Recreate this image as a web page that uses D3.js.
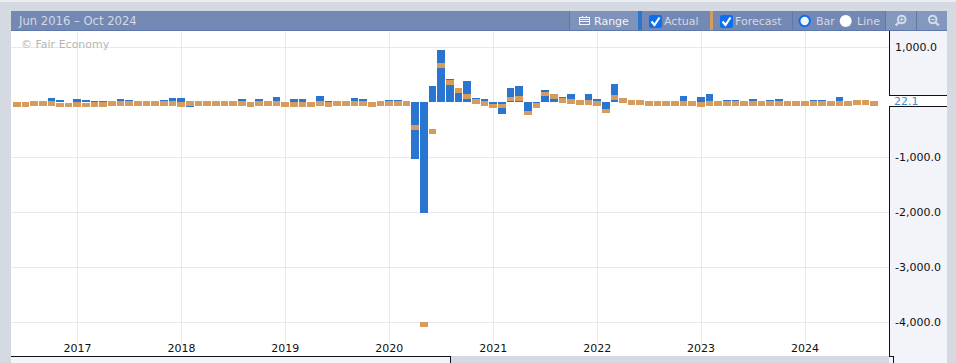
<!DOCTYPE html>
<html>
<head>
<meta charset="utf-8">
<style>
  html, body { margin: 0; padding: 0; background: #d5d9e2; overflow: hidden; }
  svg { display: block; font-family: "DejaVu Sans", sans-serif; }
</style>
<script src="https://cdn.jsdelivr.net/npm/d3@7"></script>
</head>
<body>
<svg id="chart" width="956" height="363"></svg>
<script>
const startMonth = '2016-06'
const actual = [
  13.8, -0.7, -31.2, 26.2, 75.0, 43.9, 10.7, 53.7, 48.3, 15.3,
  19.4, 3.2, 54.5, 45.3, 10.9, 22.2, 10.0, 35.3, 79.5, 78.6,
  -88.0, 15.4, 32.3, -1.1, -7.5, 31.8, 54.1, -51.6, 63.3, 11.2,
  94.1, 9.3, 66.8, 55.9, -7.2, 106.5, 27.7, -2.2, -24.2, 81.1,
  53.7, 1.8, -71.2, 35.2, 34.5, 30.3, -1030.0, -2015.0, 289.6, 952.9,
  418.5, 245.8, 378.2, 83.6, 62.1, -62.6, -212.8, 259.2, 303.1, -207.1,
  -68.0, 230.7, 94.0, 90.2, 157.1, 31.2, 153.7, 54.7, -200.1, 336.6,
  72.5, 15.3, 39.8, -43.2, -30.6, -39.7, 21.1, 108.3, 10.1, 104.0,
  150.0, 21.8, 34.7, 41.4, -17.3, 59.9, -6.4, 39.9, 63.8, 17.5,
  24.9, 0.1, 37.3, 40.7, -2.2, 90.4, 26.7, -1.4, -2.8, 22.1
]
const forecast = [
  5, 5, 20, 20, 20, -10, -10, 5, -10, 5,
  5, 20, 20, 20, 20, 20, 20, 20, 20, 5,
  20, 20, 20, 20, 20, 20, 20, 5, 20, 20,
  20, 5, 5, 5, 5, 20, 5, 20, 20, 20,
  20, 5, 20, 20, 20, 20, -415, -4000, -490, 715,
  400, 260, 150, 60, 20, -27, -27, 100, 115, -150,
  -15, 190, 150, 78, 60, 42, 38, 25, -117, 130,
  78, 42, 42, 20, 20, 20, 20, 20, 20, 5,
  20, 20, 20, 20, 20, 20, 20, 20, 20, 20,
  20, 20, 20, 20, 20, 20, 20, 42, 42, 20
]
const yearTicks = [2017, 2018, 2019, 2020, 2021, 2022, 2023, 2024]
const valueTicks = [1000, -1000, -2000, -3000, -4000]
const lastValue = 22.1

const plot = { left: 11, right: 889, top: 31, bottom: 356 }
const chrome = { grey: '#d5d9e2', panel: '#f3f4f9', head: '#7388b3', headDark: '#5f78ab', blue: '#2a75d0', orange: '#d69c5e' }

const parseMonth = d3.timeParse('%Y-%m')
const dates = actual.map((d, i) => d3.timeMonth.offset(parseMonth(startMonth), i))

const x = d3.scaleLinear()
    .domain([2017 - 7.1 / 12, 2024 + 10.5 / 12])
    .range([16, 805 + 10.5 * 8.667])
const xDate = (d) => x(d.getFullYear() + d.getMonth() / 12)
const y = d3.scaleLinear()
    .domain([1000, -4000])
    .range([47.3, 322.3])
const tickFormat = d3.formatLocale({ decimal: '.', thousands: ',', grouping: [3], currency: ['', ''], minus: '-' }).format(',.1f')

// 柱的左右边界取整，保证相邻两柱之间始终留1px
const barLeft = (i) => Math.round(xDate(d3.timeMonth.offset(parseMonth(startMonth), i)) - 4)
const barWidth = (i) => barLeft(i + 1) - barLeft(i) - 1

const svg = d3.select('#chart')

// 背景
svg.append('rect').attr('width', 956).attr('height', 363).attr('fill', chrome.grey)
svg.append('rect').attr('width', 956).attr('height', 2).attr('fill', '#eceef3')
svg.append('rect').attr('x', plot.left).attr('y', plot.top)
    .attr('width', plot.right - plot.left).attr('height', plot.bottom - plot.top).attr('fill', 'white')
svg.append('rect').attr('x', plot.left).attr('y', plot.bottom).attr('width', 439).attr('height', 7).attr('fill', chrome.panel)
svg.append('rect').attr('x', plot.right).attr('y', plot.top).attr('width', 58).attr('height', 332).attr('fill', chrome.panel)

// 网格
let grid = svg.append('g').attr('shape-rendering', 'crispEdges')
grid.selectAll('.vgrid').data(yearTicks).join('line')
    .attr('x1', (d) => x(d) + 0.5).attr('x2', (d) => x(d) + 0.5)
    .attr('y1', plot.top).attr('y2', 343)
    .attr('stroke', '#e8e9f0')
grid.selectAll('.hgrid').data(valueTicks).join('line')
    .attr('x1', plot.left).attr('x2', plot.right)
    .attr('y1', (d) => y(d)).attr('y2', (d) => y(d))
    .attr('stroke', '#e8e9f0')
grid.append('line')
    .attr('x1', plot.right).attr('x2', plot.right + 2)
    .attr('y1', y(lastValue)).attr('y2', y(lastValue))
    .attr('stroke', '#e8e9f0')

svg.append('text').attr('x', 21).attr('y', 48)
    .attr('font-size', 11).attr('fill', '#b5b5b5').text('© Fair Economy')

// 柱
let bars = svg.append('g').attr('shape-rendering', 'crispEdges')
bars.selectAll('.actual').data(actual).join('rect')
    .attr('x', (d, i) => barLeft(i))
    .attr('width', (d, i) => barWidth(i))
    .attr('y', (d) => y(Math.max(d, 0)))
    .attr('height', (d) => Math.abs(y(d) - y(0)))
    .attr('fill', chrome.blue)
bars.selectAll('.forecast').data(forecast).join('rect')
    .attr('x', (d, i) => barLeft(i))
    .attr('width', (d, i) => barWidth(i))
    .attr('y', (d) => y(d))
    .attr('height', 4.6)
    .attr('fill', chrome.orange)

// 坐标文字
svg.append('g').selectAll('text').data(yearTicks).join('text')
    .attr('x', (d) => x(d)).attr('y', 352)
    .attr('text-anchor', 'middle').attr('font-size', 11).attr('fill', '#111')
    .text((d) => d)
svg.append('g').selectAll('text').data(valueTicks).join('text')
    .attr('x', 895).attr('y', (d) => y(d) + 4)
    .attr('font-size', 11).attr('fill', '#111')
    .text((d) => tickFormat(d))

// 最新值标签
svg.append('rect').attr('x', plot.right).attr('y', 95).attr('width', 58).attr('height', 11).attr('fill', 'white')
svg.append('text').attr('x', 894).attr('y', 105)
    .attr('font-size', 11).attr('fill', '#4a86d4').text(d3.format('.1f')(lastValue))

// 边框
let border = svg.append('g').attr('stroke', '#111').attr('shape-rendering', 'crispEdges').attr('fill', 'none')
border.append('path').attr('d', 'M889.5 31V95.5H947M947 106.5H889.5V356.5H893.5V363')
border.append('path').attr('d', 'M11 356.5H450.5V363')

// 顶栏
let head = svg.append('g').attr('shape-rendering', 'crispEdges')
head.append('rect').attr('x', 11).attr('y', 11).attr('width', 936).attr('height', 19).attr('fill', chrome.head)
head.append('rect').attr('x', 11).attr('y', 30).attr('width', 936).attr('height', 1).attr('fill', chrome.headDark)
head.append('rect').attr('x', 570).attr('y', 11).attr('width', 68).attr('height', 19).attr('fill', '#7f92ba')
head.append('rect').attr('x', 885).attr('y', 11).attr('width', 62).attr('height', 19).attr('fill', '#8497bd')
head.selectAll('.sep').data([569, 792, 885, 916]).join('rect')
    .attr('x', (d) => d).attr('y', 11).attr('width', 1).attr('height', 19).attr('fill', chrome.headDark)
head.append('rect').attr('x', 638).attr('y', 11).attr('width', 4).attr('height', 19).attr('fill', chrome.blue)
head.append('rect').attr('x', 710).attr('y', 11).attr('width', 3).attr('height', 19).attr('fill', chrome.orange)

const headLabels = [
  ['Jun 2016 – Oct 2024', 19, '#d3d9e6', 11.6],
  ['Range', 594, '#f2f4f8', 11],
  ['Actual', 664, '#d3d9e6', 11],
  ['Forecast', 735, '#d3d9e6', 11],
  ['Bar', 816, '#d3d9e6', 11],
  ['Line', 857, '#d3d9e6', 11]
]
svg.append('g').selectAll('text').data(headLabels).join('text')
    .attr('x', (d) => d[1]).attr('y', 25)
    .attr('font-size', (d) => d[3]).attr('fill', (d) => d[2])
    .text((d) => d[0])

// 日历图标
let cal = svg.append('g').attr('fill', 'none').attr('stroke', '#f2f4f8').attr('shape-rendering', 'crispEdges')
cal.append('rect').attr('x', 579.5).attr('y', 17.5).attr('width', 10).attr('height', 7)
cal.append('path').attr('d', 'M579.5 19.5H589.5M579.5 21.5H589.5M582.5 15.5V17.5M586.5 15.5V17.5')

// 复选框
let checks = svg.append('g').selectAll('g').data([649, 720]).join('g')
    .attr('transform', (d) => `translate(${d},15)`)
checks.append('rect').attr('width', 13).attr('height', 13).attr('rx', 2).attr('fill', '#0b6ff0')
checks.append('path').attr('d', 'M2.5 6.5L5.5 10L10.5 2.5').attr('fill', 'none').attr('stroke', 'white').attr('stroke-width', 2.2)

// 单选
svg.append('circle').attr('cx', 804.7).attr('cy', 21).attr('r', 5.2)
    .attr('fill', '#f4f6fb').attr('stroke', '#0b6ff0').attr('stroke-width', 2)
svg.append('circle').attr('cx', 845.7).attr('cy', 21).attr('r', 6).attr('fill', 'white')

// 放大缩小
const zoomIcons = [[901.7, 1, true], [932.7, -1, false]]
let icons = svg.append('g').selectAll('g').data(zoomIcons).join('g')
    .attr('transform', (d) => `translate(${d[0]},19.5)`)
    .attr('stroke', '#d3daea').attr('fill', 'none')
icons.append('circle').attr('r', 3.8).attr('stroke-width', 2)
icons.append('line').attr('x1', (d) => d[1] * -3).attr('y1', 3).attr('x2', (d) => d[1] * -6).attr('y2', 6).attr('stroke-width', 2.4)
icons.append('path').attr('d', (d) => d[2] ? 'M-2 0H2M0 -2V2' : 'M-2 0H2').attr('stroke-width', 1)
</script>
</body>
</html>
